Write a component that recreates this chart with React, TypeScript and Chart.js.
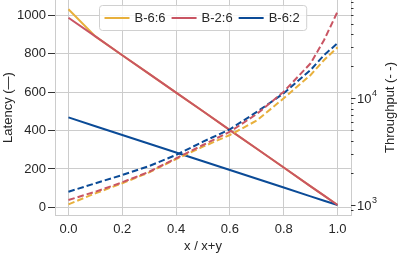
import React, { useEffect, useRef } from "react";
import { Chart, registerables } from "chart.js";
Chart.register(...registerables);

const xValues = [0, 0.1, 0.2, 0.3, 0.4, 0.5, 0.6, 0.7, 0.8, 0.9, 0.95, 1.0];
const latencyB66 = [1030, 889, 791, 694, 597, 500, 402, 305, 208, 110, 62, 13];
const latencyB26 = [986, 889, 791, 694, 597, 500, 402, 305, 208, 110, 62, 13];
const latencyB62 = [468, 422, 377, 331, 286, 240, 195, 149, 104, 58, 35, 13];
const throughputB66 = [1015, 1287, 1597, 2025, 2698, 3520, 4530, 6195, 10000, 16530, 22850, 30060];
const throughputB26 = [1114, 1332, 1632, 2051, 2740, 3650, 4864, 7130, 11530, 21280, 35200, 64800];
const throughputB62 = [1333, 1597, 1910, 2320, 2943, 3920, 5123, 7450, 11140, 18420, 25450, 32780];
const seriesLabels = ["B-6:6", "B-2:6", "B-6:2"];
const seriesColors = ["#e8b03c", "#c95563", "#0b4b97"];
const xTicks = [0, 0.2, 0.4, 0.6, 0.8, 1.0];
const latencyTicks = [0, 200, 400, 600, 800, 1000];
const throughputMajorTicks = [1000, 10000];
const throughputExponents = ["3", "4"];
const throughputMinorTicks = [800, 900, 2000, 3000, 4000, 5000, 6000, 7000, 8000, 9000, 20000, 30000, 40000, 50000, 60000, 70000, 80000, 90000];

const FONT = "'Liberation Sans', Arial, sans-serif";
const TEXT = "#262626";
const GRID = "#cccccc";
const FS = 13;

const pts = (ys: number[]) => xValues.map((x, i) => ({ x, y: ys[i] }));

const overlayPlugin = {
  id: "overlay",
  afterDraw(chart: any) {
    const ctx = chart.ctx as CanvasRenderingContext2D;
    const area = chart.chartArea;
    const y1 = chart.scales.y1;
    ctx.save();
    ctx.strokeStyle = "#333333";
    ctx.lineWidth = 1;
    for (const v of throughputMinorTicks) {
      if (v < y1.min || v > y1.max) continue;
      const py = Math.round(y1.getPixelForValue(v)) + 0.5;
      ctx.beginPath();
      ctx.moveTo(area.right, py);
      ctx.lineTo(area.right + 2.5, py);
      ctx.stroke();
    }
    throughputMajorTicks.forEach((v, i) => {
      const py = Math.round(y1.getPixelForValue(v)) + 0.5;
      ctx.strokeStyle = "#333333";
      ctx.lineWidth = 1;
      ctx.beginPath();
      ctx.moveTo(area.right, py);
      ctx.lineTo(area.right + 4.5, py);
      ctx.stroke();
      ctx.fillStyle = TEXT;
      ctx.textBaseline = "middle";
      ctx.textAlign = "left";
      ctx.font = `${FS}px ${FONT}`;
      const lx = area.right + 6;
      ctx.fillText("10", lx, py + 1);
      const w = ctx.measureText("10").width;
      ctx.font = `9px ${FONT}`;
      ctx.fillText(throughputExponents[i], lx + w + 0.5, py - 5);
    });
    ctx.save();
    ctx.translate(390, (area.top + area.bottom) / 2);
    ctx.rotate(-Math.PI / 2);
    ctx.font = `${FS}px ${FONT}`;
    ctx.fillStyle = TEXT;
    ctx.textAlign = "center";
    ctx.textBaseline = "middle";
    ctx.fillText("Throughput (- -)", 0, 0);
    ctx.restore();
    ctx.font = `${FS}px ${FONT}`;
    const lineLen = 25;
    const widths = seriesLabels.map((s) => ctx.measureText(s).width);
    const total = 5 + widths.reduce((a, w) => a + lineLen + 5 + w + 6, 0) + 1;
    const bx = Math.round((area.left + area.right) / 2 - total / 2) + 0.5;
    const by = 5.5;
    const bh = 25;
    const r = 3;
    ctx.beginPath();
    ctx.moveTo(bx + r, by);
    ctx.lineTo(bx + total - r, by);
    ctx.arcTo(bx + total, by, bx + total, by + r, r);
    ctx.lineTo(bx + total, by + bh - r);
    ctx.arcTo(bx + total, by + bh, bx + total - r, by + bh, r);
    ctx.lineTo(bx + r, by + bh);
    ctx.arcTo(bx, by + bh, bx, by + bh - r, r);
    ctx.lineTo(bx, by + r);
    ctx.arcTo(bx, by, bx + r, by, r);
    ctx.closePath();
    ctx.fillStyle = "rgba(255,255,255,0.8)";
    ctx.fill();
    ctx.strokeStyle = "#d0d0d0";
    ctx.lineWidth = 1;
    ctx.stroke();
    let x = bx + 5;
    const cy = by + bh / 2;
    seriesLabels.forEach((s, i) => {
      ctx.strokeStyle = seriesColors[i];
      ctx.lineWidth = 2;
      ctx.beginPath();
      ctx.moveTo(x, cy);
      ctx.lineTo(x + lineLen, cy);
      ctx.stroke();
      x += lineLen + 5;
      ctx.fillStyle = TEXT;
      ctx.textAlign = "left";
      ctx.textBaseline = "middle";
      ctx.fillText(s, x, cy + 0.5);
      x += widths[i] + 6;
    });
    ctx.restore();
  },
};

export default function App() {
  const ref = useRef<HTMLCanvasElement>(null);
  useEffect(() => {
    if (!ref.current) return;
    Chart.defaults.font.family = FONT;
    Chart.defaults.font.size = FS;
    Chart.defaults.color = TEXT;
    const solid = (i: number, data: number[], order: number) => ({
      label: seriesLabels[i],
      data: pts(data),
      borderColor: seriesColors[i],
      backgroundColor: seriesColors[i],
      borderWidth: 2,
      pointRadius: 0,
      tension: 0,
      yAxisID: "y",
      order,
    });
    const dashed = (i: number, data: number[]) => ({
      label: seriesLabels[i] + " throughput",
      data: pts(data),
      borderColor: seriesColors[i],
      backgroundColor: seriesColors[i],
      borderWidth: 2,
      borderDash: [6.5, 3],
      pointRadius: 0,
      tension: 0,
      yAxisID: "y1",
      order: 0,
    });
    const zeroPad = (s: any) => {
      s.paddingTop = 0;
      s.paddingBottom = 0;
      s.paddingLeft = 0;
      s.paddingRight = 0;
    };
    const chart = new Chart(ref.current, {
      type: "line",
      data: {
        datasets: [
          dashed(1, throughputB26),
          dashed(2, throughputB62),
          dashed(0, throughputB66),
          solid(1, latencyB26, 1),
          solid(2, latencyB62, 1),
          solid(0, latencyB66, 2),
        ],
      },
      options: {
        animation: false,
        responsive: false,
        devicePixelRatio: 1,
        layout: { padding: 0 },
        plugins: { legend: { display: false }, tooltip: { enabled: false } },
        scales: {
          x: {
            type: "linear",
            min: -0.05,
            max: 1.05,
            afterBuildTicks: (s: any) => {
              s.ticks = xTicks.map((v) => ({ value: v }));
            },
            afterFit: (s: any) => {
              s.height = 39;
              zeroPad(s);
            },
            ticks: { padding: 7, callback: (v: any) => Number(v).toFixed(1), maxRotation: 0, autoSkip: false },
            grid: { color: GRID, lineWidth: 1, drawTicks: false },
            border: { color: GRID, width: 1 },
            title: { display: true, text: "x / x+y", padding: { top: 0, bottom: 0 }, font: { size: FS } },
          },
          y: {
            type: "linear",
            position: "left",
            min: -39,
            max: 1078,
            afterBuildTicks: (s: any) => {
              s.ticks = latencyTicks.map((v) => ({ value: v }));
            },
            afterFit: (s: any) => {
              s.width = 55;
              zeroPad(s);
            },
            ticks: { padding: 2, autoSkip: false, callback: (v: any) => String(v) },
            grid: { color: GRID, lineWidth: 1, tickColor: "#333333", tickLength: 7 },
            border: { color: GRID, width: 1 },
            title: { display: true, text: "Latency (—)", padding: { top: 1, bottom: 0 }, font: { size: FS } },
          },
          y1: {
            type: "logarithmic",
            position: "right",
            min: 806,
            max: 83400,
            afterBuildTicks: (s: any) => {
              s.ticks = throughputMajorTicks.map((v) => ({ value: v }));
            },
            afterFit: (s: any) => {
              s.width = 48;
              zeroPad(s);
            },
            ticks: { display: false },
            grid: { display: true, drawOnChartArea: false, drawTicks: false },
            border: { color: GRID, width: 1 },
          },
        },
      },
      plugins: [overlayPlugin],
    } as any);
    return () => chart.destroy();
  }, []);
  return (
    <div style={{ position: "fixed", left: 0, top: 0, width: 399, height: 254, background: "#fff" }}>
      <canvas ref={ref} width={399} height={254} style={{ display: "block", width: 399, height: 254 }} />
    </div>
  );
}
